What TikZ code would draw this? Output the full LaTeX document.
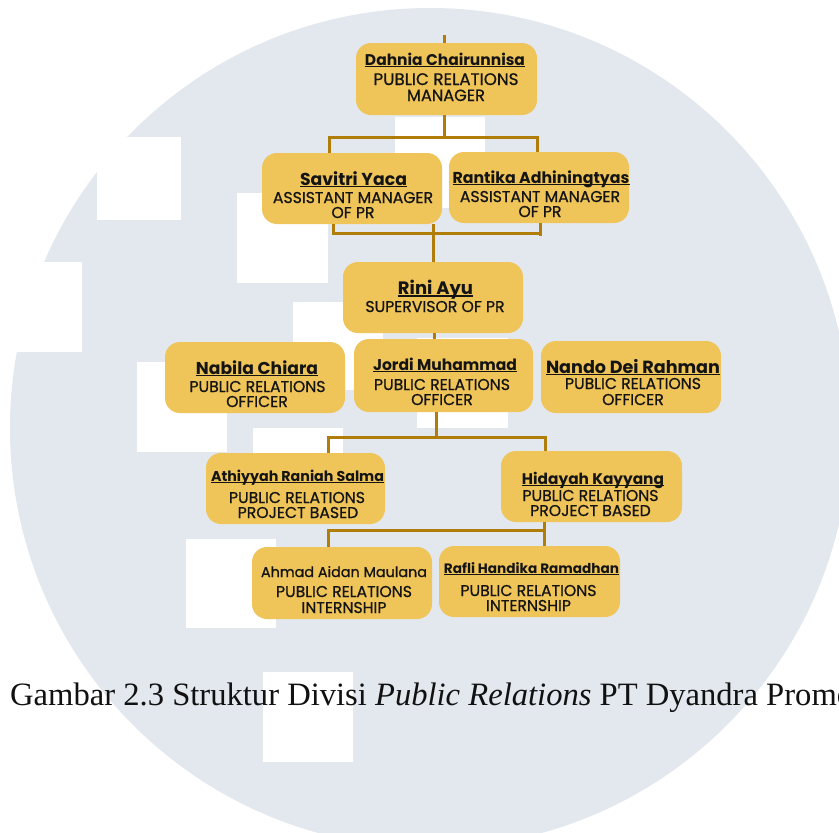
\documentclass[tikz,border=0pt]{standalone}
\usepackage{fontspec}
\usepackage{graphicx}
\newfontfamily\boxfont{Poppins}
\newfontfamily\titlefont{Poppins}[FakeBold=0.7]
\newfontfamily\capfont{Liberation Serif}
\definecolor{bgcirc}{RGB}{227,232,239}
\definecolor{boxfill}{RGB}{239,196,89}
\definecolor{conncol}{RGB}{176,125,8}
\definecolor{txtcol}{RGB}{20,20,20}
\newlength\prwidth
\newcommand\myul[1]{\setbox0\hbox{#1}\rlap{\rule[-1.4pt]{\wd0}{0.85pt}}\box0}
\newcommand\pname[2]{\resizebox{#1pt}{!}{\bfseries\myul{#2}}}
\newcommand\plainname[2]{\resizebox{#1pt}{!}{\titlefont #2}}
\newcommand\ttl[1]{\scalebox{\tscale}{\titlefont #1}}
\tikzset{
  orgbox/.style={rectangle, rounded corners=15pt, fill=boxfill, draw=none, inner sep=0pt},
  txt/.style={inner sep=0pt, anchor=base, font=\boxfont, text=txtcol},
  conn/.style={draw=conncol, line width=3pt},
  wmark/.style={fill=white}
}
\begin{document}
\settowidth\prwidth{\titlefont\fontsize{10}{12}\selectfont PUBLIC RELATIONS}
\pgfmathsetmacro\tscale{136/\prwidth}
\begin{tikzpicture}[x=1pt,y=-1pt]
\useasboundingbox (0,0) rectangle (839,833);
\clip (0,0) rectangle (839,833);
\fill[white] (0,0) rectangle (839,833);
\fill[bgcirc] (430,428) circle[radius=420];
% watermark squares
\fill[wmark] (97,137) rectangle (181,220);
\fill[wmark] (0,262) rectangle (82,352);
\fill[wmark] (237,193) rectangle (328,283);
\fill[wmark] (395,117) rectangle (485,208);
\fill[wmark] (293,302) rectangle (383,390);
\fill[wmark] (137,362) rectangle (227,452);
\fill[wmark] (253,428) rectangle (343,518);
\fill[wmark] (417,338) rectangle (508,428);
\fill[wmark] (186,539) rectangle (276,628);
\fill[wmark] (263,672) rectangle (353,762);

% boxes
\node[orgbox, minimum width=181pt, minimum height=72pt] (b1) at (446.5,79) {};
\node[orgbox, minimum width=180pt, minimum height=71pt] (b2) at (352,188.5) {};
\node[orgbox, minimum width=180pt, minimum height=71pt] (b3) at (539,187.5) {};
\node[orgbox, minimum width=180pt, minimum height=71pt] (b4) at (433,297.5) {};
\node[orgbox, minimum width=180pt, minimum height=71pt] (b5) at (255,377.5) {};
\node[orgbox, minimum width=179pt, minimum height=73pt] (b6) at (443.5,375.5) {};
\node[orgbox, minimum width=180pt, minimum height=72pt] (b7) at (631,377) {};
\node[orgbox, minimum width=179pt, minimum height=71pt] (b8) at (295.5,488.5) {};
\node[orgbox, minimum width=181pt, minimum height=71pt] (b9) at (591.5,486.5) {};
\node[orgbox, minimum width=180pt, minimum height=72pt] (b10) at (342,583) {};
\node[orgbox, minimum width=181pt, minimum height=71pt] (b11) at (529.5,581.5) {};

% connector coordinates
\coordinate (top) at (444,35);
\coordinate (j1) at (444,137);
\coordinate (l1) at (329,137);
\coordinate (r1) at (537,137);
\coordinate (j2) at (433,233);
\coordinate (l2) at (333,233);
\coordinate (r2) at (540,233);
\coordinate (c3) at (434,336);
\coordinate (j4) at (436,437);
\coordinate (l4) at (328,437);
\coordinate (r4) at (545,437);
\coordinate (j5) at (544,530);
\coordinate (l5) at (328,530);

\draw[conn] (top) -- (top |- b1.north);
\draw[conn] (j1 |- b1.south) -- (j1);
\draw[conn, line cap=rect] (l1) -- (r1);
\draw[conn] (l1) -- (l1 |- b2.north);
\draw[conn] (r1) -- (r1 |- b3.north);
\draw[conn] (l2 |- b2.south) -- ([yshift=-1.5pt]l2);
\draw[conn] (r2 |- b3.south) -- ([yshift=-3pt]r2);
\draw[conn] (l2) -- (r2);
\draw[conn] (j2 |- b2.south) -- (j2 |- b4.north);
\draw[conn] (c3 |- b4.south) -- (c3 |- b6.north);
\draw[conn] (j4 |- b6.south) -- (j4);
\draw[conn, line cap=rect] (l4) -- (r4);
\draw[conn] (l4) -- (l4 |- b8.north);
\draw[conn] (r4) -- (r4 |- b9.north);
\draw[conn] (j5 |- b9.south) -- (j5);
\draw[conn, line cap=rect] (l5) -- (j5);
\draw[conn] (l5) -- (l5 |- b10.north);
\draw[conn] (j5) -- (j5 |- b11.north);

% texts
\node[txt] (t1a) at (445,65) {\pname{160}{Dahnia Chairunnisa}};
\node[txt] (t1b) at (446,85) {\resizebox{145pt}{!}{\titlefont PUBLIC RELATIONS}};
\node[txt] (t1c) at (446,101) {\resizebox{78pt}{!}{\titlefont MANAGER}};

\node[txt] (t2a) at (353.5,185) {\pname{107}{Savitri Yaca}};
\node[txt] (t2b) at (353,203) {\ttl{ASSISTANT MANAGER}};
\node[txt] (t2c) at (353,218) {\ttl{OF PR}};

\node[txt] (t3a) at (541,183) {\pname{177}{Rantika Adhiningtyas}};
\node[txt] (t3b) at (540,202) {\ttl{ASSISTANT MANAGER}};
\node[txt] (t3c) at (540,217) {\ttl{OF PR}};

\node[txt] (t4a) at (435.5,294) {\pname{75}{Rini Ayu}};
\node[txt] (t4b) at (435,312) {\ttl{SUPERVISOR OF PR}};

\node[txt] (t5a) at (257,374) {\pname{122}{Nabila Chiara}};
\node[txt] (t5b) at (257.5,392) {\ttl{PUBLIC RELATIONS}};
\node[txt] (t5c) at (257,407) {\ttl{OFFICER}};

\node[txt] (t6a) at (445,370) {\pname{144}{Jordi Muhammad}};
\node[txt] (t6b) at (442,390) {\ttl{PUBLIC RELATIONS}};
\node[txt] (t6c) at (442,405) {\ttl{OFFICER}};

\node[txt] (t7a) at (633,373) {\pname{174}{Nando Dei Rahman}};
\node[txt] (t7b) at (633,389) {\ttl{PUBLIC RELATIONS}};
\node[txt] (t7c) at (633,405) {\ttl{OFFICER}};

\node[txt] (t8a) at (297.5,481) {\pname{173}{Athiyyah Raniah Salma}};
\node[txt] (t8b) at (297,503) {\ttl{PUBLIC RELATIONS}};
\node[txt] (t8c) at (298,518) {\ttl{PROJECT BASED}};

\node[txt] (t9a) at (593,484) {\pname{142}{Hidayah Kayyang}};
\node[txt] (t9b) at (590.5,501) {\ttl{PUBLIC RELATIONS}};
\node[txt] (t9c) at (590.5,516) {\ttl{PROJECT BASED}};

\node[txt] (t10a) at (344,577) {\plainname{166}{Ahmad Aidan Maulana}};
\node[txt] (t10b) at (344,597) {\ttl{PUBLIC RELATIONS}};
\node[txt] (t10c) at (344,613) {\ttl{INTERNSHIP}};

\node[txt] (t11a) at (531.5,573) {\pname{175}{Rafli Handika Ramadhan}};
\node[txt] (t11b) at (528.5,596) {\ttl{PUBLIC RELATIONS}};
\node[txt] (t11c) at (528.5,611) {\ttl{INTERNSHIP}};

% caption
\node[anchor=base west, inner sep=0pt, text={rgb,255:red,17;green,17;blue,17},
      font=\capfont\fontsize{32.6}{38}\selectfont] (caption) at (10,705)
  {Gambar 2.3 Struktur Divisi \textit{Public Relations} PT Dyandra Promo};
\end{tikzpicture}
\end{document}
